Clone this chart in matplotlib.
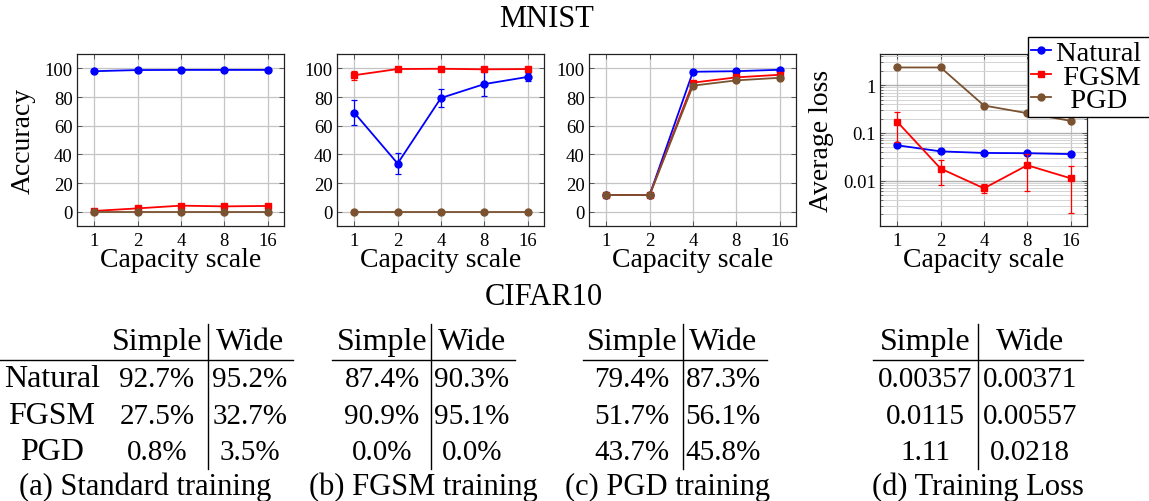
import numpy as np
import matplotlib.pyplot as plt
from matplotlib.lines import Line2D
from matplotlib.ticker import FuncFormatter, NullFormatter, NullLocator, LogLocator

plt.rcParams['font.family'] = ['Liberation Serif', 'DejaVu Serif']

W, H = 1149, 502

# capacity scales on the x axis
scales = [1, 2, 4, 8, 16]
series = ['Natural', 'FGSM', 'PGD']

# MNIST, (a) standard training -- accuracy
std_nat = [98.0, 98.8, 98.9, 98.9, 98.9]
std_fgsm = [0.5, 2.3, 4.2, 3.7, 4.0]
std_pgd = [0.0, 0.0, 0.0, 0.0, 0.0]

# MNIST, (b) FGSM training
fg_nat = [69.0, 33.6, 79.3, 89.0, 94.0]
fg_nat_err = [8.6, 7.0, 6.0, 8.5, 3.0]
fg_fgsm = [95.2, 99.5, 99.7, 99.3, 99.5]
fg_fgsm_err = [3.2, 0.6, 0.4, 0.7, 0.5]
fg_pgd = [0.0, 0.0, 0.0, 0.0, 0.0]

# MNIST, (c) PGD training
pg_nat = [11.6, 11.6, 97.6, 98.0, 99.0]
pg_fgsm = [11.6, 11.6, 90.0, 93.7, 95.5]
pg_pgd = [11.6, 11.6, 87.9, 91.6, 93.4]

# MNIST, (d) training loss
loss_nat = [0.055, 0.041, 0.038, 0.0375, 0.036]
loss_fgsm = [0.17, 0.0179, 0.0069, 0.021, 0.0112]
loss_fgsm_err = [0.105, 0.0097, 0.0015, 0.015, 0.0091]
loss_pgd = [2.35, 2.35, 0.375, 0.259, 0.179]

# CIFAR10 tables
tab_cols = ['Simple', 'Wide']
tab_rows = ['Natural', 'FGSM', 'PGD']
std_simple = [92.7, 27.5, 0.8]
std_wide = [95.2, 32.7, 3.5]
fgt_simple = [87.4, 90.9, 0.0]
fgt_wide = [90.3, 95.1, 0.0]
pgt_simple = [79.4, 51.7, 43.7]
pgt_wide = [87.3, 56.1, 45.8]
tl_simple = [0.00357, 0.0115, 1.11]
tl_wide = [0.00371, 0.00557, 0.0218]
captions = ['(a) Standard training', '(b) FGSM training', '(c) PGD training', '(d) Training Loss']

c_nat = '#0000ff'
c_fgsm = '#ff0000'
c_pgd = '#7a5230'


def fx(x):
    return x / W


def fy(y):
    return 1 - y / H


fig = plt.figure(figsize=(W / 100, H / 100), dpi=100)

lefts = [77, 337, 589, 880]
axes = []
for l in lefts:
    ax = fig.add_axes([fx(l), fy(227), 207 / W, 172 / H])
    axes.append(ax)


def style(ax):
    ax.set_xscale('log', base=2)
    ax.set_xlim(2 ** -0.4, 2 ** 4.38)
    ax.set_xticks(scales)
    ax.set_xticklabels([str(s) for s in scales])
    ax.xaxis.set_minor_locator(NullLocator())
    ax.set_axisbelow(True)
    ax.grid(True, which='major', color='#c4c4c4', lw=0.9)
    ax.tick_params(direction='in', top=True, right=True, length=3.5, width=0.6,
                   color='#444444', labelsize=13.5)
    ax.tick_params(axis='x', pad=4)
    ax.tick_params(axis='y', pad=3)
    for s in ax.spines.values():
        s.set_linewidth(0.9)
        s.set_color('#222222')
    ax.set_xlabel('Capacity scale', fontsize=20)
    ax.xaxis.set_label_coords(0.5, -0.122)


def plot_line(ax, y, color, marker, err=None):
    if err is None:
        ax.plot(scales, y, color=color, marker=marker, ms=5, lw=1.3, clip_on=False)
    else:
        ax.errorbar(scales, y, yerr=err, color=color, marker=marker, ms=5, lw=1.3,
                    elinewidth=0.9, capsize=2.2, capthick=0.9, clip_on=False)


# accuracy panels
acc_data = [
    (std_nat, None, std_fgsm, None, std_pgd),
    (fg_nat, fg_nat_err, fg_fgsm, fg_fgsm_err, fg_pgd),
    (pg_nat, None, pg_fgsm, None, pg_pgd),
]
for ax, (n, ne, f, fe, p) in zip(axes[:3], acc_data):
    style(ax)
    plot_line(ax, n, c_nat, 'o', ne)
    plot_line(ax, f, c_fgsm, 's', fe)
    plot_line(ax, p, c_pgd, 'o')
    ax.set_ylim(-10, 110)
    ax.set_yticks([0, 20, 40, 60, 80, 100])

axes[0].set_ylabel('Accuracy', fontsize=20)
axes[0].yaxis.set_label_coords(-0.200, 0.5)

# loss panel
ax = axes[3]
style(ax)
ax.set_yscale('log')
ax.set_ylim(0.00112, 4.5)
ax.yaxis.set_major_locator(LogLocator(base=10))
ax.yaxis.set_minor_locator(LogLocator(base=10, subs=np.arange(2, 10)))
ax.yaxis.set_major_formatter(FuncFormatter(lambda v, p: f'{v:g}'))
ax.yaxis.set_minor_formatter(NullFormatter())
ax.grid(True, which='major', axis='y', color='#b0b0b0', lw=1.0)
ax.grid(True, which='minor', axis='y', color='#d4d4d4', lw=0.7)
ax.tick_params(which='minor', direction='in', right=True, length=2, width=0.5, color='#444444')
plot_line(ax, loss_nat, c_nat, 'o')
plot_line(ax, loss_fgsm, c_fgsm, 's', loss_fgsm_err)
plot_line(ax, loss_pgd, c_pgd, 'o')
ax.set_ylabel('Average loss', fontsize=20)
ax.yaxis.set_label_coords(-0.222, 0.5)

handles = [Line2D([], [], color=c, marker=m, ms=5, lw=1.3)
           for c, m in [(c_nat, 'o'), (c_fgsm, 's'), (c_pgd, 'o')]]
labels = [series[0] + ' ', ' ' + series[1], '  ' + series[2]]
leg = fig.legend(handles, labels, loc='upper left', bbox_to_anchor=(fx(1028), fy(37.7)),
                 fontsize=20.5, frameon=True, fancybox=False, edgecolor='black',
                 framealpha=1, labelspacing=-0.08, handlelength=0.7, handletextpad=0.15,
                 borderpad=0.12, borderaxespad=0)
leg.get_frame().set_linewidth(1.0)

# titles
fig.text(fx(547), fy(26.7), 'MNIST', ha='center', va='baseline', fontsize=22)
fig.text(fx(544), fy(305), 'CIFAR10', ha='center', va='baseline', fontsize=22)

# CIFAR10 tables
head_y = 350
row_ys = [386.7, 424, 460]
cap_y = 495
tfs = 23   # words
vfs = 21   # numbers
cfs = 22   # captions


def pct(v):
    return f'{v:.1f}%'


def loss_fmt(v):
    return f'{v:g}'


tables = [
    (std_simple, std_wide, pct, 157, 250, 208.3, 0, 293, 145),
    (fgt_simple, fgt_wide, pct, 382, 472, 430.7, 332, 515, 423),
    (pgt_simple, pgt_wide, pct, 632, 723, 682.7, 583, 767, 668),
    (tl_simple, tl_wide, loss_fmt, 925, 1030, 977.7, 873, 1083, 978),
]
for i, (simple, wide, fmt, xs, xw, xv, h0, h1, xc) in enumerate(tables):
    fig.text(fx(xs), fy(head_y), tab_cols[0], ha='center', va='baseline', fontsize=tfs)
    fig.text(fx(xw), fy(head_y), tab_cols[1], ha='center', va='baseline', fontsize=tfs)
    for y, a, b in zip(row_ys, simple, wide):
        fig.text(fx(xs), fy(y), fmt(a), ha='center', va='baseline', fontsize=vfs)
        fig.text(fx(xw), fy(y), fmt(b), ha='center', va='baseline', fontsize=vfs)
    fig.add_artist(Line2D([fx(h0), fx(h1)], [fy(361), fy(361)], color='black', lw=1.0))
    fig.add_artist(Line2D([fx(xv), fx(xv)], [fy(325), fy(470)], color='black', lw=1.0))
    fig.text(fx(xc), fy(cap_y), captions[i], ha='center', va='baseline', fontsize=cfs)

for y, name in zip(row_ys, tab_rows):
    fig.text(fx(52), fy(y), name, ha='center', va='baseline', fontsize=tfs)

fig.savefig('out.png', dpi=100)
